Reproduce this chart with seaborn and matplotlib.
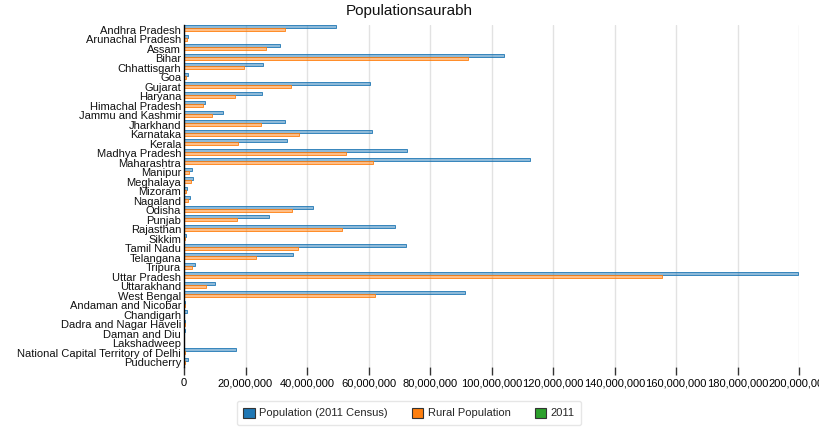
import matplotlib
matplotlib.use("Agg")
import matplotlib.pyplot as plt
import seaborn as sns
import pandas as pd
from matplotlib.patches import Patch
from matplotlib.ticker import FuncFormatter, MultipleLocator

states = ["Andhra Pradesh", "Arunachal Pradesh", "Assam", "Bihar", "Chhattisgarh", "Goa",
          "Gujarat", "Haryana", "Himachal Pradesh", "Jammu and Kashmir", "Jharkhand",
          "Karnataka", "Kerala", "Madhya Pradesh", "Maharashtra", "Manipur", "Meghalaya",
          "Mizoram", "Nagaland", "Odisha", "Punjab", "Rajasthan", "Sikkim", "Tamil Nadu",
          "Telangana", "Tripura", "Uttar Pradesh", "Uttarakhand", "West Bengal",
          "Andaman and Nicobar", "Chandigarh", "Dadra and Nagar Haveli", "Daman and Diu",
          "Lakshadweep", "National Capital Territory of Delhi", "Puducherry"]

population = [49386799, 1383727, 31205576, 104099452, 25545198, 1458545,
              60439692, 25351462, 6864602, 12541302, 32988134,
              61095297, 33406061, 72626809, 112374333, 2570390, 2966889,
              1097206, 1978502, 41974218, 27743338, 68548437, 610577, 72147030,
              35286757, 3673917, 199812341, 10086292, 91276115,
              380581, 1055450, 343709, 243247,
              64473, 16787941, 1247953]

rural = [32800000, 1066358, 26807034, 92341436, 19607961, 551731,
         34694609, 16509359, 6176050, 9108060, 25055073,
         37469335, 17471135, 52557404, 61556074, 1736236, 2371439,
         525435, 1407536, 34970562, 17344192, 51500352, 456999, 37229590,
         23400000, 2712464, 155317278, 7036954, 62183113,
         237093, 28991, 183114, 60396,
         14141, 419042, 395200]

year = [2011] * len(states)

series_names = ["Population (2011 Census)", "Rural Population", "2011"]
colors = ["#1f77b4", "#ff7f0e", "#2ca02c"]

df = pd.DataFrame({
    "state": states * 3,
    "value": population + rural + year,
    "series": [series_names[0]] * len(states) + [series_names[1]] * len(states) + [series_names[2]] * len(states),
})

sns.set_style("white")
plt.rcParams["font.family"] = ["Liberation Sans", "DejaVu Sans"]

fig = plt.figure(figsize=(8.19, 4.34), dpi=100)
ax = fig.add_axes([184 / 819, 1 - 367 / 434, (799 - 184) / 819, (367 - 25) / 434])

sns.barplot(data=df, x="value", y="state", hue="series", orient="h",
            palette=colors, width=0.9, dodge=True, ax=ax, legend=False,
            linewidth=0.6, saturation=1)

for patch in ax.patches:
    fc = patch.get_facecolor()
    patch.set_edgecolor(fc[:3] + (1.0,))
    patch.set_facecolor(fc[:3] + (0.5,))

ax.set_xlim(0, 200000000)
ax.set_ylim(len(states) - 0.5, -0.5)
ax.xaxis.set_major_locator(MultipleLocator(20000000))
ax.xaxis.set_major_formatter(FuncFormatter(lambda v, p: f"{int(v):,}"))
ax.grid(axis="x", color="#e2e2e2", linewidth=1)
ax.set_axisbelow(True)
ax.set_xlabel("")
ax.set_ylabel("")
for s in ["top", "right", "bottom"]:
    ax.spines[s].set_visible(False)
ax.spines["left"].set_color("black")
ax.spines["left"].set_linewidth(1)
ax.tick_params(axis="x", length=6, width=1, color="#333333", labelsize=8, pad=2,
               labelcolor="black", direction="out", bottom=True)
ax.tick_params(axis="y", length=0, labelsize=8, pad=2, labelcolor="#111111")

fig.suptitle("Populationsaurabh", x=409 / 819, y=1 - 11 / 434, va="center", fontsize=11, color="#111111")

handles = [Patch(facecolor=c, edgecolor="#333333", linewidth=0.8) for c in colors]
leg = fig.legend(handles, series_names, loc="center", bbox_to_anchor=(409 / 819, 1 - 413 / 434),
                 ncol=3, fontsize=8, frameon=True, fancybox=True, edgecolor="#e0e0e0",
                 handlelength=1.0, handleheight=1.0, handletextpad=0.4, columnspacing=2.2,
                 borderpad=0.6)
leg.get_frame().set_linewidth(1)

fig.savefig("out.png", dpi=100)
